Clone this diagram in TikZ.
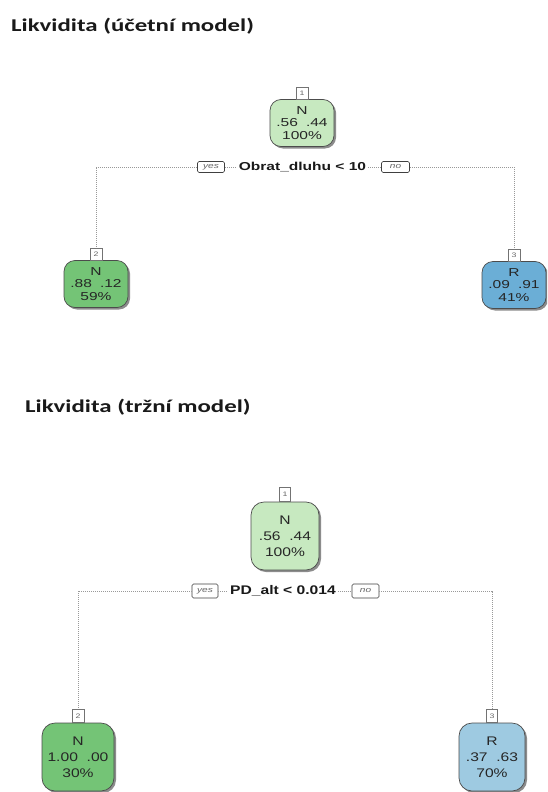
\documentclass[tikz,border=0pt]{standalone}
\usepackage{fontspec}
\usetikzlibrary{shadows}
\newfontfamily\titlefont[FakeStretch=1.38]{Carlito}
\newfontfamily\nodefontA[FakeStretch=1.35]{Liberation Sans}
\newfontfamily\nodefontB[FakeStretch=1.25]{Liberation Sans}
\definecolor{lgreen}{HTML}{C7E9C0}
\definecolor{mgreen}{HTML}{74C476}
\definecolor{mblue}{HTML}{6BAED6}
\definecolor{lblue}{HTML}{9ECAE1}
\newcommand{\probgap}{\hspace{0.7em}}
\begin{document}
\begin{tikzpicture}[x=1pt,y=-1pt,
  title/.style={anchor=base west, inner sep=0pt, font=\titlefont\bfseries\fontsize{18}{20}\selectfont, text=black!90},
  leaf/.style={draw=black!70, line width=0.7pt, rounded corners=11pt, text=black!85,
    align=center, inner sep=0pt,
    drop shadow={shadow xshift=2pt, shadow yshift=-2pt, fill=black!45, opacity=1}},
  leafA/.style={leaf, minimum width=64pt, minimum height=47pt, font=\nodefontA\fontsize{11.5}{12.5}\selectfont},
  leafB/.style={leaf, rounded corners=13pt, minimum width=68pt, minimum height=68pt, font=\nodefontB\fontsize{12.5}{16}\selectfont},
  numbox/.style={draw=black!55, fill=white, line width=0.5pt, inner sep=0pt,
    minimum width=12pt, minimum height=12pt, font=\nodefontA\fontsize{6.5}{6.5}\selectfont, text=black!60},
  yn/.style={draw=black!75, fill=white, rounded corners=1.5pt, line width=0.6pt, inner sep=0pt,
    minimum height=11pt, font=\nodefontA\itshape\fontsize{7.5}{7.5}\selectfont, text=black!60},
  splitA/.style={inner sep=2pt, font=\nodefontA\bfseries\fontsize{11.5}{12}\selectfont, text=black!90},
  splitB/.style={inner sep=2pt, font=\nodefontB\bfseries\fontsize{12.5}{13}\selectfont, text=black!90},
  edge/.style={draw=black!40, line width=0.6pt, dash pattern=on 1pt off 1pt}
]
\useasboundingbox[fill=white] (0,0) rectangle (547,792);
\clip (0,0) rectangle (547,792);

% ---------- accounting model ----------
\node[title] (title1) at (11,32) {Likvidita (účetní model)};

\node[leafA, fill=lgreen] (t1) at (302,123) {N\\.56\probgap.44\\100\%};
\node[numbox, anchor=south] (t1n) at (t1.north) {1};

\node[splitA] (ts) at (302.5,167) {Obrat\_dluhu < 10};
\node[yn, minimum width=27pt] (ty) at (211,167) {yes};
\node[yn, minimum width=28pt] (tn) at (395.5,167) {no};

\node[leafA, fill=mgreen] (t2) at (96,284) {N\\.88\probgap.12\\59\%};
\node[numbox, anchor=south] (t2n) at (t2.north) {2};
\node[leafA, fill=mblue] (t3) at (514,285) {R\\.09\probgap.91\\41\%};
\node[numbox, anchor=south] (t3n) at (t3.north) {3};

\draw[edge] (ty.west) -- (ty.west -| t2n) -- (t2n.north);
\draw[edge] (ty.east) -- (ts.west);
\draw[edge] (ts.east) -- (tn.west);
\draw[edge] (tn.east) -- (tn.east -| t3n) -- (t3n.north);

% ---------- market model ----------
\node[title] (title2) at (25,412) {Likvidita (tržní model)};

\node[leafB, fill=lgreen] (b1) at (285,536) {N\\.56\probgap.44\\100\%};
\node[numbox, anchor=south, minimum width=11pt, minimum height=14pt] (b1n) at (b1.north) {1};

\node[splitB] (bs) at (283,591) {PD\_alt < 0.014};
\node[yn, minimum width=26pt, minimum height=14pt] (by) at (205,591) {yes};
\node[yn, minimum width=27pt, minimum height=14pt] (bn) at (365.5,591) {no};

\node[leafB, fill=mgreen, minimum width=72pt] (b2) at (78,757) {N\\1.00\probgap.00\\30\%};
\node[numbox, anchor=south, minimum width=12pt, minimum height=13pt] (b2n) at (b2.north) {2};
\node[leafB, fill=lblue, minimum width=66pt] (b3) at (492,757) {R\\.37\probgap.63\\70\%};
\node[numbox, anchor=south, minimum width=11pt, minimum height=13pt] (b3n) at (b3.north) {3};

\draw[edge] (by.west) -- (by.west -| b2n) -- (b2n.north);
\draw[edge] (by.east) -- (bs.west);
\draw[edge] (bs.east) -- (bn.west);
\draw[edge] (bn.east) -- (bn.east -| b3n) -- (b3n.north);
\end{tikzpicture}
\end{document}
